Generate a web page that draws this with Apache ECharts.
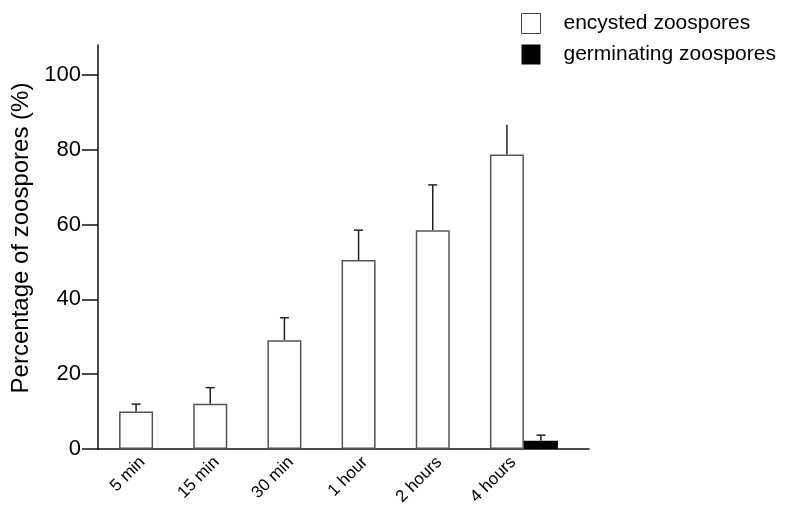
<!DOCTYPE html>
<html>
<head>
<meta charset="utf-8">
<script src="https://cdn.jsdelivr.net/npm/echarts@6/dist/echarts.min.js"></script>
<style>html,body{margin:0;padding:0;background:#fff}#c{width:786px;height:514px}</style>
</head>
<body>
<div id="c"></div>
<script>
var categories = ['5 min', '15 min', '30 min', '1 hour', '2 hours', '4 hours'];
var encysted = [10, 12.1, 29.1, 50.5, 58.5, 78.7];
var encystedErr = [2, 4.3, 6, 8, 12.1, 8];
var encystedCap = [1, 1, 1, 1, 1, 0];
var germinating = [0, 0, 0, 0, 0, 2.2];
var germinatingErr = [0, 0, 0, 0, 0, 1.5];
var germinatingCap = [0, 0, 0, 0, 0, 1];
var yTicks = [0, 20, 40, 60, 80, 100];

var BAR_W = 34;
var FONT = '"Liberation Sans", Arial, sans-serif';

function errData(vals, errs, caps) {
  var out = [];
  for (var i = 0; i < vals.length; i++) {
    if (errs[i] > 0) out.push([i, vals[i], vals[i] + errs[i], caps[i]]);
  }
  return out;
}
function errRender(sign) {
  return function (params, api) {
    var lo = api.coord([api.value(0), api.value(1)]);
    var hi = api.coord([api.value(0), api.value(2)]);
    var x = lo[0] + sign * BAR_W / 2;
    var children = [{
      type: 'line',
      shape: { x1: x, y1: lo[1], x2: x, y2: hi[1] },
      style: { stroke: '#222', lineWidth: 1.5 }
    }];
    if (api.value(3)) {
      children.push({
        type: 'line',
        shape: { x1: x - 4.5, y1: hi[1], x2: x + 4.5, y2: hi[1] },
        style: { stroke: '#222', lineWidth: 1.5 }
      });
    }
    return { type: 'group', children: children };
  };
}

var chart = echarts.init(document.getElementById('c'), null, { renderer: 'canvas' });
chart.setOption({
  animation: false,
  backgroundColor: '#fff',
  textStyle: { fontFamily: FONT, color: '#000' },
  legend: {
    orient: 'vertical',
    left: 516,
    top: 8,
    itemWidth: 19,
    itemHeight: 20,
    itemGap: 10,
    textStyle: { fontSize: 21, color: '#000', fontFamily: FONT, padding: [0, 0, 0, 18] },
    data: [
      { name: 'encysted zoospores', icon: 'rect', itemStyle: { color: '#fff', borderColor: '#444', borderWidth: 1 } },
      { name: 'germinating zoospores', icon: 'rect', itemStyle: { color: '#000' } }
    ]
  },
  grid: [
    { left: 116, width: 445, top: 45, bottom: 65 },
    { left: 98, right: 197, top: 45, bottom: 65 }
  ],
  xAxis: [
    {
      type: 'category', gridIndex: 0, data: categories,
      axisLine: { show: false }, axisTick: { show: false },
      axisLabel: { rotate: 45, fontSize: 17, color: '#000', fontFamily: FONT, margin: 0, interval: 0, padding: [0, 15, 0, 0] }
    },
    {
      type: 'value', gridIndex: 1, min: 0, max: 1,
      axisLine: { show: true, lineStyle: { color: '#111', width: 1.5 } },
      axisTick: { show: false }, axisLabel: { show: false }, splitLine: { show: false }
    }
  ],
  yAxis: [
    {
      type: 'value', gridIndex: 0, min: 0, max: 108, interval: 20, offset: 18,
      name: 'Percentage of zoospores (%)', nameLocation: 'middle', nameGap: 57,
      nameTextStyle: { fontSize: 24, color: '#000', fontFamily: FONT, padding: [0, 0, 0, 18] },
      axisLine: { show: true, lineStyle: { color: '#111', width: 1.5 } },
      axisTick: { show: true, length: 16, customValues: yTicks, lineStyle: { color: '#111', width: 1.5 } },
      axisLabel: { fontSize: 22, color: '#000', fontFamily: FONT, margin: 17, customValues: yTicks },
      splitLine: { show: false }
    },
    {
      type: 'value', gridIndex: 1, min: 0, max: 1, show: false
    }
  ],
  series: [
    {
      name: 'encysted zoospores', type: 'bar', xAxisIndex: 0, yAxisIndex: 0,
      data: encysted, barWidth: BAR_W, barGap: '0%',
      itemStyle: { color: '#fff', borderColor: '#555', borderWidth: 1.5 }
    },
    {
      name: 'germinating zoospores', type: 'bar', xAxisIndex: 0, yAxisIndex: 0,
      data: germinating, barWidth: BAR_W, barGap: '0%',
      itemStyle: { color: '#000' }
    },
    {
      type: 'custom', xAxisIndex: 0, yAxisIndex: 0, z: 5,
      renderItem: errRender(-1), data: errData(encysted, encystedErr, encystedCap)
    },
    {
      type: 'custom', xAxisIndex: 0, yAxisIndex: 0, z: 5,
      renderItem: errRender(1), data: errData(germinating, germinatingErr, germinatingCap)
    }
  ]
});
</script>
</body>
</html>
